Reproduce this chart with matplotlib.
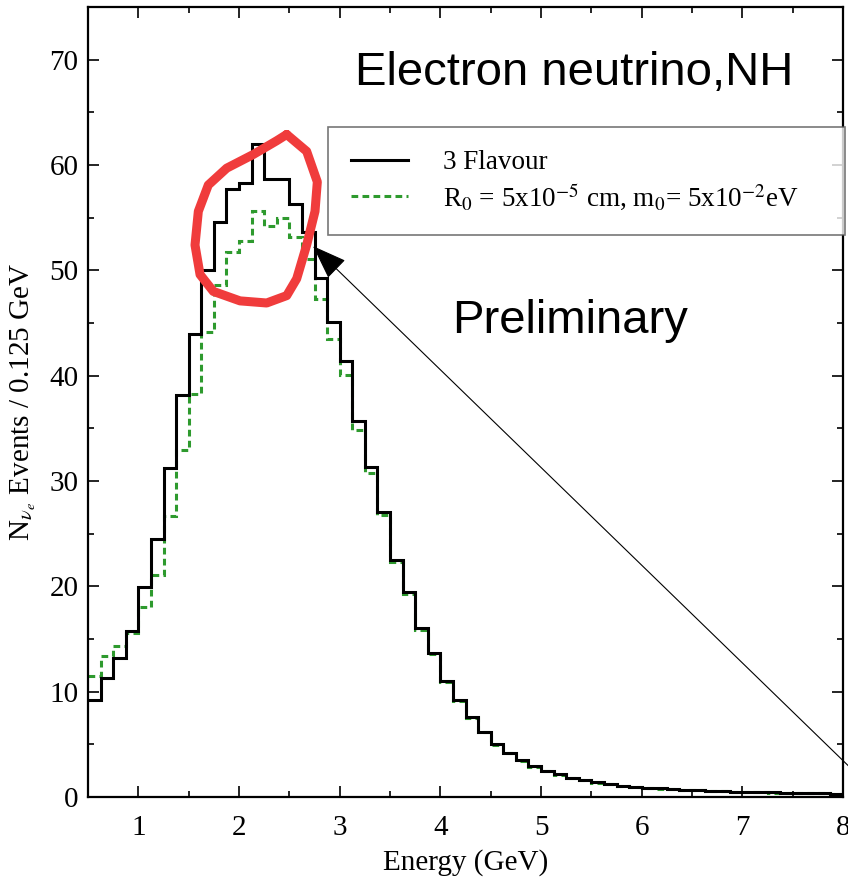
import numpy as np
import matplotlib
matplotlib.use("Agg")
import matplotlib.pyplot as plt

# bin settings (0.125 GeV bins from 0.5 to 8 GeV)
e_min = 0.5
bin_width = 0.125

# event counts per bin
three_flavour = [9.2, 11.3, 13.2, 15.8, 19.9, 24.5, 31.2, 38.2, 44.0, 50.0,
                 54.6, 57.7, 58.3, 62.0, 58.7, 58.7, 56.3, 53.6, 49.3, 45.1,
                 41.4, 35.7, 31.3, 27.1, 22.5, 19.5, 16.0, 13.7, 11.0, 9.2,
                 7.6, 6.2, 5.0, 4.2, 3.5, 2.9, 2.5, 2.15, 1.85, 1.6,
                 1.4, 1.22, 1.08, 0.97, 0.9, 0.82, 0.75, 0.7, 0.65, 0.6,
                 0.56, 0.52, 0.49, 0.46, 0.43, 0.41, 0.39, 0.37, 0.35, 0.33]

decoherence = [11.5, 13.4, 14.3, 15.6, 18.0, 21.1, 26.7, 32.9, 38.3, 44.1,
               48.6, 51.7, 52.8, 55.6, 54.2, 55.0, 53.2, 51.1, 47.3, 43.5,
               40.1, 34.8, 30.8, 26.8, 22.3, 19.3, 15.9, 13.6, 10.9, 9.1,
               7.5, 6.15, 4.95, 4.15, 3.45, 2.85, 2.45, 2.1, 1.8, 1.57,
               1.37, 1.19, 1.05, 0.94, 0.87, 0.79, 0.73, 0.68, 0.63, 0.58,
               0.54, 0.5, 0.47, 0.44, 0.42, 0.4, 0.38, 0.36, 0.34, 0.32]

# hand drawn red outline around the peak (data coords)
outline_x = [2.474, 2.672, 2.778, 2.755, 2.672, 2.573, 2.474, 2.275, 2.010,
             1.745, 1.613, 1.563, 1.596, 1.695, 1.878, 2.142, 2.374, 2.474]
outline_y = [62.9, 61.3, 58.4, 55.6, 52.4, 49.2, 47.6, 46.9, 47.1,
             48.0, 49.6, 52.4, 55.6, 58.1, 59.7, 61.0, 62.3, 62.9]

labels = ["3 Flavour", r"R$_0$ = 5x10$^{-5}$ cm, m$_0$= 5x10$^{-2}$eV"]

plt.rcParams["font.family"] = ["Liberation Serif", "DejaVu Serif"]
plt.rcParams["mathtext.fontset"] = "stix"

edges = e_min + bin_width * np.arange(len(three_flavour) + 1)

fig = plt.figure(figsize=(8.48, 8.81), dpi=100)
ax = fig.add_axes([88 / 848, 1 - 797 / 881, 755 / 848, 790 / 881])

green = ax.stairs(decoherence, edges, baseline=None, color="#2e9a2e", linewidth=2.2,
                  linestyle=(0, (2.2, 1.4)), zorder=2)
black = ax.stairs(three_flavour, edges, baseline=None, color="black", linewidth=2.2,
                  zorder=3)

ax.set_xlim(0.5, 8)
ax.set_ylim(0, 75)
ax.set_xticks(np.arange(1, 9))
ax.set_xticks(np.arange(0.5, 8.01, 0.5), minor=True)
ax.set_yticks(np.arange(0, 71, 10))
ax.set_yticks(np.arange(0, 75, 5), minor=True)
ax.tick_params(which="both", direction="in", top=True, right=True,
               labelsize=21, width=1.2)
ax.tick_params(axis="x", which="major", length=8, pad=13)
ax.tick_params(axis="y", which="major", length=8, pad=7)
ax.tick_params(which="minor", length=4)
for s in ax.spines.values():
    s.set_linewidth(1.6)

ax.set_xlabel("Energy (GeV)", fontsize=21, labelpad=6)
ax.set_ylabel(r"N$_{\nu_e}$ Events / 0.125 GeV", fontsize=21, labelpad=8)

leg = ax.legend([black, green], labels, loc="upper left",
                bbox_to_anchor=(0.318, 0.848, 0.685, 0.0),
                mode="expand", fontsize=19.5, frameon=True, fancybox=False,
                edgecolor="#555555", handlelength=2.1, handletextpad=1.3,
                borderpad=0.85, labelspacing=0.22, borderaxespad=0)
leg.get_frame().set_linewidth(1.2)

ax.text(0.5 + (355 - 88) / 100.67, (797 - 75) / 10.5, "Electron neutrino,NH",
        family="Liberation Sans", fontsize=34, va="center", ha="left")
ax.text(0.5 + (452 - 88) / 100.67, (797 - 323) / 10.5, "Preliminary",
        family="Liberation Sans", fontsize=34, va="center", ha="left")

ax.plot(outline_x, outline_y, color="#f03c3c", linewidth=6.5,
        solid_joinstyle="round", solid_capstyle="round", zorder=5, clip_on=False)

ax.annotate("", xy=(2.735, 52.3), xytext=(8.2, 1.6), annotation_clip=False,
            arrowprops=dict(arrowstyle="-|>,head_length=1.1,head_width=0.4",
                            mutation_scale=20, color="black", linewidth=0.8,
                            shrinkA=0, shrinkB=0))

fig.savefig("out.png", dpi=100)
